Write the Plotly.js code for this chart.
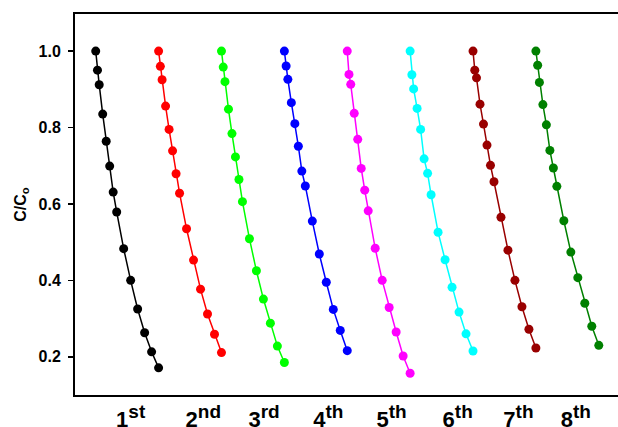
<!DOCTYPE html>
<html>
<head>
<meta charset="utf-8">
<script src="https://cdn.plot.ly/plotly-3.0.1.min.js"></script>
<style>
html,body{margin:0;padding:0;overflow:hidden;background:#fff;}
#chart{width:618px;height:427px;}
</style>
</head>
<body>
<div id="chart"></div>
<script>
// Sampling times within each cycle (min)
const times = [0, 0.5, 1, 2, 3, 4, 5, 6, 8, 10, 12, 14, 16, 18];
// Start time of each cycle on the shared time axis
const cycleStart = [0, 18, 36, 54, 72, 90, 108, 126];
const cycleNames = ['1st', '2nd', '3rd', '4th', '5th', '6th', '7th', '8th'];
const cycleNums = ['1', '2', '3', '4', '5', '6', '7', '8'];
const cycleSuffix = ['st', 'nd', 'rd', 'th', 'th', 'th', 'th', 'th'];
const tickPos = [10.0, 30.8, 48.2, 66.6, 84.7, 103.6, 121.0, 137.4];

// C/Co values for each cycle
const cycle1 = [1.000, 0.950, 0.912, 0.835, 0.764, 0.699, 0.631, 0.579, 0.483, 0.400, 0.325, 0.263, 0.213, 0.171];
const cycle2 = [1.000, 0.960, 0.925, 0.856, 0.795, 0.739, 0.679, 0.628, 0.535, 0.453, 0.377, 0.312, 0.259, 0.211];
const cycle3 = [1.000, 0.958, 0.920, 0.848, 0.784, 0.723, 0.664, 0.606, 0.509, 0.425, 0.351, 0.288, 0.228, 0.185];
const cycle4 = [1.000, 0.961, 0.926, 0.865, 0.810, 0.751, 0.686, 0.647, 0.555, 0.469, 0.395, 0.324, 0.269, 0.216];
const cycle5 = [1.000, 0.939, 0.913, 0.837, 0.769, 0.693, 0.636, 0.582, 0.484, 0.400, 0.329, 0.265, 0.202, 0.157];
const cycle6 = [1.000, 0.938, 0.901, 0.850, 0.795, 0.718, 0.680, 0.624, 0.526, 0.454, 0.382, 0.317, 0.260, 0.215];
const cycle7 = [1.000, 0.950, 0.930, 0.861, 0.809, 0.754, 0.701, 0.658, 0.565, 0.479, 0.400, 0.331, 0.272, 0.223];
const cycle8 = [1.000, 0.963, 0.918, 0.860, 0.807, 0.740, 0.694, 0.646, 0.556, 0.474, 0.407, 0.340, 0.280, 0.230];

const allCycles = [cycle1, cycle2, cycle3, cycle4, cycle5, cycle6, cycle7, cycle8];
const colors = ['#000000', '#ff0000', '#00ff00', '#0000ff', '#ff00ff', '#00ffff', '#990000', '#008000'];

const traces = allCycles.map((vals, i) => ({
  type: 'scatter',
  mode: 'lines+markers',
  name: cycleNames[i],
  x: times.map(t => t + cycleStart[i]),
  y: vals,
  line: {color: colors[i], width: 1.5},
  marker: {color: colors[i], size: 9},
  showlegend: false
}));

const family = '"Liberation Sans", Arial, sans-serif';
const font = {family: family, size: 16, color: '#000', weight: 700};
const xfont = {family: family, size: 22, color: '#000', weight: 700};
const tickLabels = cycleNums.map((n, i) =>
  n + '<sup><span style="font-size:19px">' + cycleSuffix[i] + '</span></sup>');

const layout = {
  width: 618,
  height: 427,
  margin: {l: 75, r: 0, t: 14, b: 32, pad: 0},
  paper_bgcolor: '#fff',
  plot_bgcolor: '#fff',
  showlegend: false,
  xaxis: {
    range: [-5.93, 149.5],
    showgrid: false,
    zeroline: false,
    showline: true,
    linecolor: '#000',
    linewidth: 2,
    mirror: true,
    ticks: '',
    tickvals: tickPos,
    ticktext: tickLabels,
    tickfont: xfont,
    ticklabelstandoff: 4
  },
  yaxis: {
    range: [0.1, 1.097],
    showgrid: false,
    zeroline: false,
    showline: true,
    linecolor: '#000',
    linewidth: 2,
    mirror: false,
    ticks: 'outside',
    ticklen: 5,
    tickwidth: 1.5,
    tickcolor: '#000',
    tickvals: [0.2, 0.4, 0.6, 0.8, 1.0],
    ticktext: ['0.2', '0.4', '0.6', '0.8', '1.0'],
    tickfont: font,
    ticklabelstandoff: 4,
    title: {text: 'C/C<sub>o</sub>', font: font, standoff: 8}
  }
};

Plotly.newPlot('chart', traces, layout, {staticPlot: true, displayModeBar: false});
</script>
</body>
</html>
